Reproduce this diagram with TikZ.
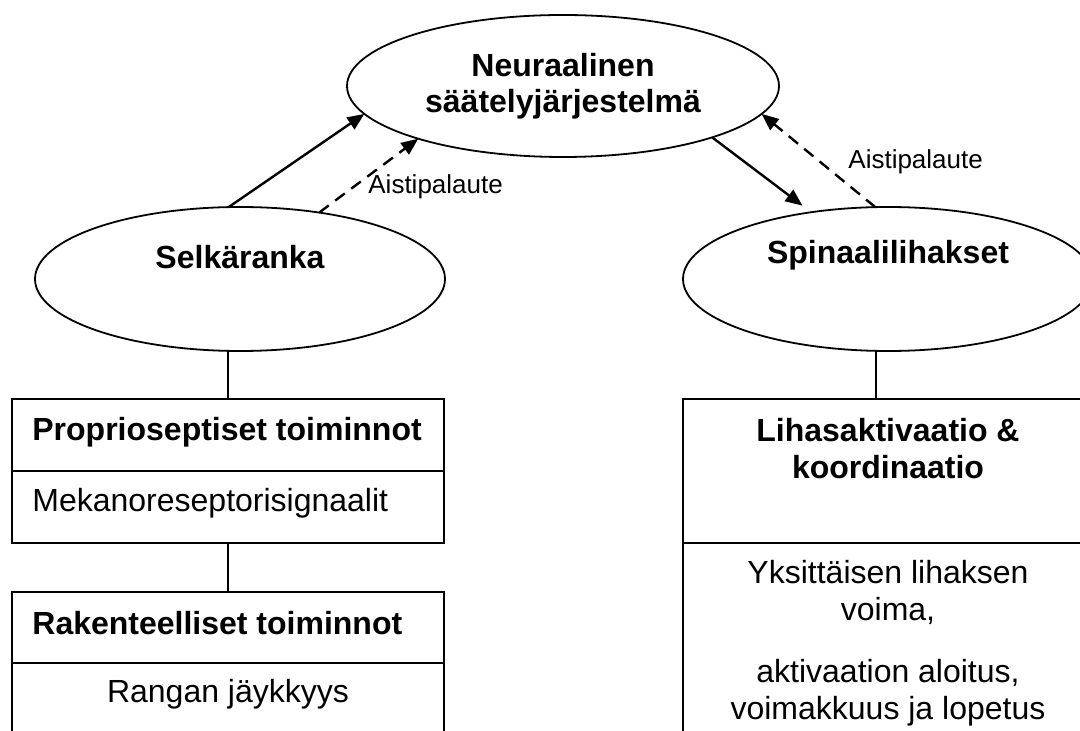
\documentclass[tikz,border=0pt]{standalone}
\usepackage{fontspec}
\setmainfont{Liberation Sans}
\usetikzlibrary{arrows.meta,shapes.geometric,calc}
\begin{document}
\begin{tikzpicture}[x=0.5pt,y=-0.5pt,
  ell/.style={draw, ellipse, line width=0.9pt, inner sep=0pt, outer sep=0pt},
  cell/.style={draw, rectangle, line width=0.9pt, inner sep=0pt, outer sep=0pt, minimum width=216pt},
  title/.style={font=\fontsize{16}{18}\selectfont\bfseries, inner sep=0pt, align=center},
  body/.style={font=\fontsize{16}{18.5}\selectfont, inner sep=0pt, align=center},
  lab/.style={font=\fontsize{13}{15}\selectfont, inner sep=0pt, anchor=west},
  flow/.style={line width=1.2pt, -{Triangle[length=8.5pt,width=7pt]}},
  fb/.style={flow, dash pattern=on 6pt off 4pt},
  link/.style={line width=0.8pt}
]
\useasboundingbox (0,0) rectangle (1080,731);
\clip (0,0) rectangle (1080,731);

% ellipses
\node[ell, minimum width=216pt, minimum height=71pt, title] (neu) at (563,86) {Neuraalinen\\säätelyjärjestelmä};
\node[ell, minimum width=205pt, minimum height=72pt] (sel) at (240,279) {};
\node[title] (selt) at (240,257) {Selkäranka};
\node[ell, minimum width=205pt, minimum height=72pt] (spi) at (888,279) {};
\node[title] (spit) at (888,255) {Spinaalilihakset};

% boxes
\node[cell, minimum height=36pt] (p1a) at (228,435) {};
\node[cell, minimum height=36pt] (p1b) at (228,507) {};
\node[cell, minimum height=35.5pt] (p2a) at (228,627.5) {};
\node[cell, minimum height=50pt] (p2b) at (228,713) {};
\node[cell, minimum height=72pt] (l1) at (899,471) {};
\node[cell, minimum height=110pt] (l2) at (899,653) {};

% box texts
\node[title, anchor=west] (p1t) at (32,432) {Proprioseptiset toiminnot};
\node[body, anchor=west] (p1s) at (32,503) {Mekanoreseptorisignaalit};
\node[title, anchor=west] (p2t) at (32,623) {Rakenteelliset toiminnot};
\node[body] (p2s) at (228,694) {Rangan jäykkyys};
\node[title, font=\fontsize{16}{18.5}\selectfont\bfseries] (lt) at (888,449) {Lihasaktivaatio \&\\koordinaatio};
\node[body] (ls1) at (888,592) {Yksittäisen lihaksen\\voima,};
\node[body] (ls2) at (888,693) {aktivaation aloitus,\\voimakkuus ja lopetus};

% labels
\node[lab] (a1) at (368,187) {Aistipalaute};
\node[lab] (a2) at (848,162) {Aistipalaute};

% connectors
\draw[link] ([xshift=-6pt]sel.south) -- (p1a.north);
\draw[link] (p1b.south) -- (p2a.north);
\draw[link] ([xshift=-6pt]spi.south) -- ([xshift=-6pt]spi.south |- l1.north);
\draw[flow] (sel.99) -- (neu.188);
\draw[fb] (sel.40) -- (neu.200);
\draw[flow, shorten >=5.5pt] (neu.341) -- (spi.139);
\draw[fb] (spi.100) -- (neu.352);
\end{tikzpicture}
\end{document}
